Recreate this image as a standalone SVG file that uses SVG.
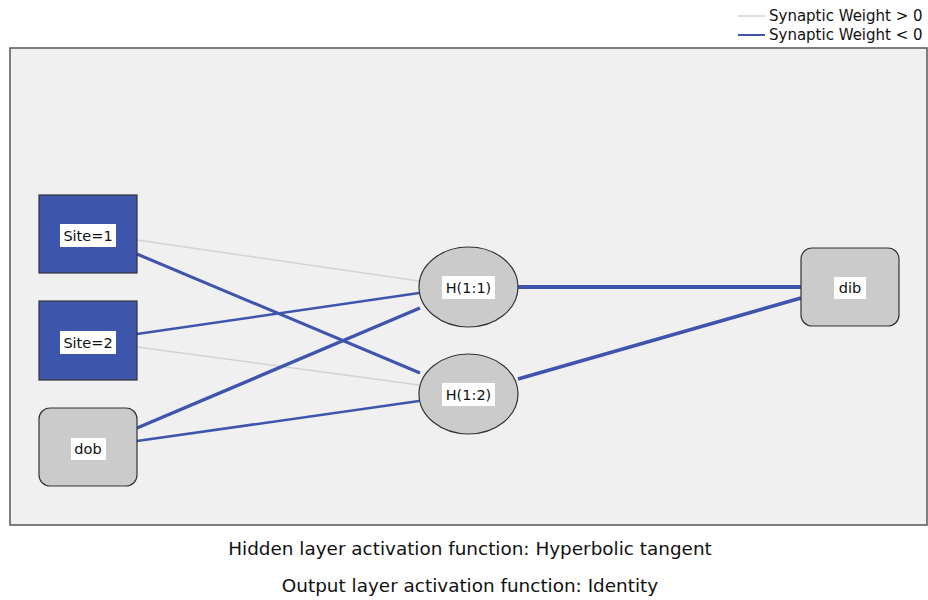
<svg xmlns="http://www.w3.org/2000/svg" width="928" height="600" viewBox="0 0 928 600">
<style>
text{font-family:"DejaVu Sans","Liberation Sans",sans-serif;fill:#111}
.lbl{font-size:14.5px;text-anchor:middle}
.lb{fill:#fff}
.pos{stroke:#d2d2d2;stroke-width:1.5;fill:none}
.neg{stroke:#3f55ad;fill:none}
.sq{fill:#3d55ab;stroke:#333;stroke-width:1.2}
.gr{fill:#cbcbcb;stroke:#333;stroke-width:1.2}
.cap{font-size:18.4px;text-anchor:middle}
</style>
<rect width="928" height="600" fill="#fff"/>
<g id="legend">
<line x1="738" y1="16" x2="765" y2="16" class="pos"/>
<line x1="738" y1="35" x2="765" y2="35" class="neg" stroke-width="2"/>
<text x="769" y="21" font-size="15">Synaptic Weight &gt; 0</text>
<text x="769" y="40" font-size="15">Synaptic Weight &lt; 0</text>
</g>
<rect x="10" y="48" width="917" height="477" fill="#f0f0f0" stroke="#555" stroke-width="1.5"/>
<g id="connectors">
<line x1="137" y1="240" x2="419" y2="281" class="pos"/>
<line x1="137" y1="254" x2="420" y2="373" class="neg" stroke-width="3"/>
<line x1="137" y1="334" x2="419" y2="293" class="neg" stroke-width="2.5"/>
<line x1="137" y1="347" x2="419" y2="385" class="pos"/>
<line x1="137" y1="428" x2="420" y2="308" class="neg" stroke-width="3.5"/>
<line x1="137" y1="441" x2="419" y2="401" class="neg" stroke-width="2.5"/>
<line x1="518" y1="287" x2="801" y2="287" class="neg" stroke-width="4"/>
<line x1="518" y1="379" x2="801" y2="298" class="neg" stroke-width="3.5"/>
</g>
<g id="site1">
<rect x="39" y="195" width="98" height="78" class="sq"/>
<rect x="60" y="224" width="56" height="23" class="lb"/>
<text x="88" y="241" class="lbl">Site=1</text>
</g>
<g id="site2">
<rect x="39" y="301" width="98" height="79" class="sq"/>
<rect x="60" y="331" width="56" height="23" class="lb"/>
<text x="88" y="348" class="lbl">Site=2</text>
</g>
<g id="dob">
<rect x="39" y="408" width="98" height="78" rx="11" class="gr"/>
<rect x="71" y="438" width="35" height="22" class="lb"/>
<text x="88" y="454" class="lbl">dob</text>
</g>
<g id="h11">
<ellipse cx="468.5" cy="287" rx="49.5" ry="40" class="gr"/>
<rect x="442" y="276" width="53" height="23" class="lb"/>
<text x="468.5" y="293" class="lbl">H(1:1)</text>
</g>
<g id="h12">
<ellipse cx="468.5" cy="394" rx="49.5" ry="40" class="gr"/>
<rect x="442" y="383" width="53" height="23" class="lb"/>
<text x="468.5" y="400" class="lbl">H(1:2)</text>
</g>
<g id="dib">
<rect x="801" y="248" width="98" height="78" rx="11" class="gr"/>
<rect x="834" y="277" width="32" height="22" class="lb"/>
<text x="850" y="293" class="lbl">dib</text>
</g>
<text x="470" y="555" class="cap">Hidden layer activation function: Hyperbolic tangent</text>
<text x="470" y="592" class="cap">Output layer activation function: Identity</text>
</svg>
